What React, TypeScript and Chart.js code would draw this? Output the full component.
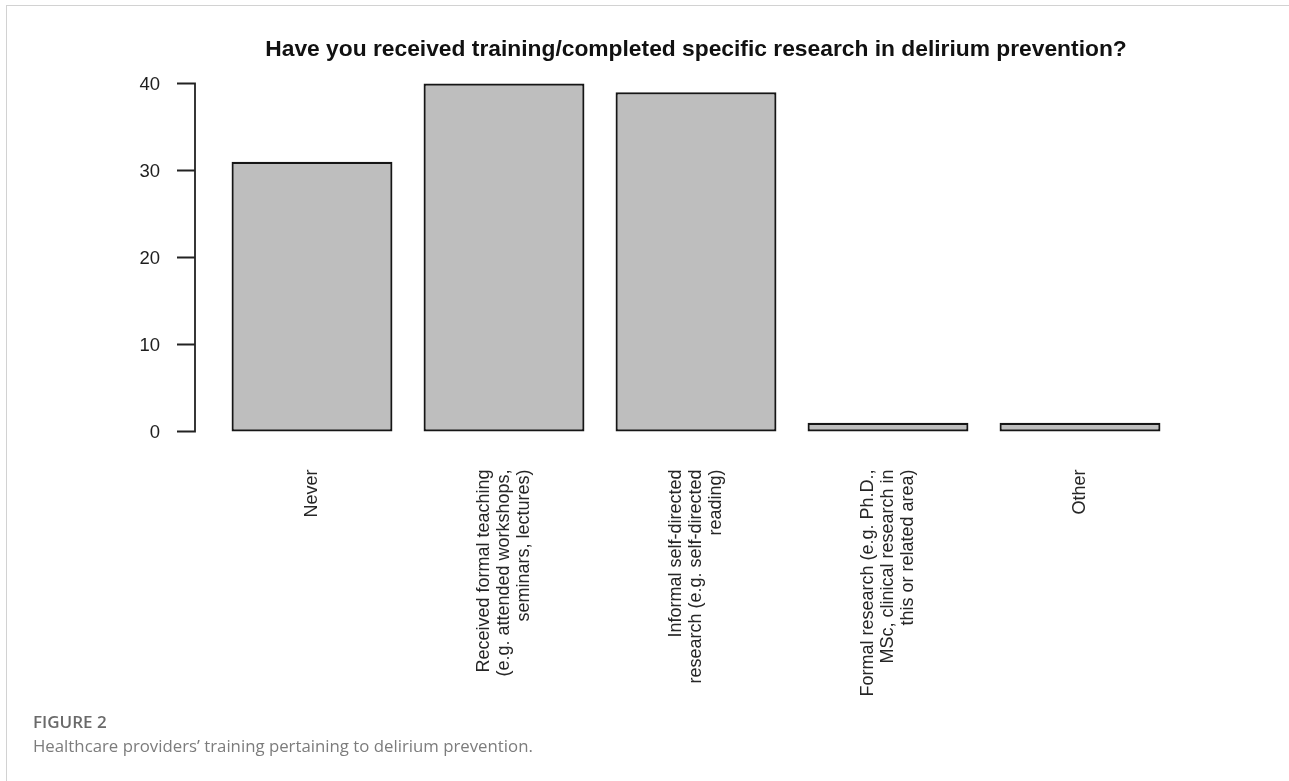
import React, { useEffect, useRef } from "react";
import { Chart, registerables } from "chart.js";

Chart.register(...registerables);

// ---- data ----
const chartTitle =
  "Have you received training/completed specific research in delirium prevention?";
const categories: string[][] = [
  ["Never"],
  ["Received formal teaching", "(e.g. attended workshops,", "seminars, lectures)"],
  ["Informal self-directed", "research (e.g. self-directed", "reading)"],
  ["Formal research (e.g. Ph.D.,", "MSc, clinical research in", "this or related area)"],
  ["Other"],
];
const counts = [31, 40, 39, 1, 1];
const yTickValues = [0, 10, 20, 30, 40];
const figureLabel = "FIGURE 2";
const figureCaption = "Healthcare providers\u2019 training pertaining to delirium prevention.";

const FONT = "'Liberation Sans', Arial, Helvetica, sans-serif";

const rStylePlugin = {
  id: "rStyle",
  afterDatasetsDraw(chart: any) {
    const { ctx, chartArea, scales } = chart;
    const xs = scales.x;
    const ys = scales.y;
    const axisX = chartArea.left - 21;
    const tickVals: number[] = ys.ticks.map((t: any) => t.value);
    ctx.save();

    // y axis line + tick marks
    ctx.strokeStyle = "#222";
    ctx.lineWidth = 1.8;
    ctx.lineCap = "butt";
    ctx.beginPath();
    const yTop = ys.getPixelForValue(Math.max(...tickVals));
    const yBot = ys.getPixelForValue(Math.min(...tickVals));
    ctx.moveTo(axisX, yBot + 0.9);
    ctx.lineTo(axisX, yTop - 0.9);
    tickVals.forEach((v) => {
      const py = ys.getPixelForValue(v);
      ctx.moveTo(axisX + 0.9, py);
      ctx.lineTo(axisX - 18, py);
    });
    ctx.stroke();

    // y tick labels
    ctx.fillStyle = "#1e1e1e";
    ctx.font = `18.5px ${FONT}`;
    ctx.textAlign = "right";
    ctx.textBaseline = "middle";
    ys.ticks.forEach((t: any) => {
      ctx.fillText(String(t.label ?? t.value), axisX - 35, ys.getPixelForValue(t.value) + 1);
    });

    // x category labels (rotated, right-justified, centred block)
    const lh = 20;
    const labelTop = chartArea.bottom + 24;
    ctx.fillStyle = "#262626";
    ctx.font = `18px ${FONT}`;
    (chart.data.labels as any[]).forEach((lab, i) => {
      const lines: string[] = Array.isArray(lab) ? lab : [String(lab)];
      const cx = xs.getPixelForTick(i);
      ctx.save();
      ctx.translate(cx - ((lines.length - 1) * lh) / 2, labelTop);
      ctx.rotate(-Math.PI / 2);
      ctx.textAlign = "right";
      ctx.textBaseline = "middle";
      lines.forEach((ln, j) => ctx.fillText(ln, 0, j * lh));
      ctx.restore();
    });

    // title
    ctx.fillStyle = "#111";
    ctx.font = `bold 22.8px ${FONT}`;
    ctx.textAlign = "center";
    ctx.textBaseline = "middle";
    ctx.fillText(chartTitle, (chartArea.left + chartArea.right) / 2, 50);

    ctx.restore();
  },
};

export default function App() {
  const ref = useRef<HTMLCanvasElement>(null);

  useEffect(() => {
    if (!ref.current) return;
    const chart = new Chart(ref.current, {
      type: "bar",
      data: {
        labels: categories as any,
        datasets: [
          {
            data: counts,
            backgroundColor: "#bebebe",
            borderColor: "#161616",
            borderWidth: 2.2,
            borderSkipped: false,
            barPercentage: 0.838,
            categoryPercentage: 1,
          },
        ],
      },
      options: {
        responsive: false,
        animation: false,
        devicePixelRatio: 1,
        layout: { padding: { left: 216, right: 113, top: 69.6, bottom: 335.6 } },
        scales: {
          x: { display: false, offset: true },
          y: {
            display: false,
            min: -1.6,
            max: 41.6,
            afterBuildTicks: (s: any) => {
              s.ticks = yTickValues.map((v) => ({ value: v }));
            },
          },
        },
        plugins: {
          legend: { display: false },
          tooltip: { enabled: false },
          title: { display: false },
        },
      },
      plugins: [rStylePlugin],
    });
    return () => chart.destroy();
  }, []);

  return (
    <div
      style={{
        position: "fixed",
        left: 0,
        top: 0,
        width: 1289,
        height: 781,
        background: "#fff",
        overflow: "hidden",
      }}
    >
      <div
        style={{
          position: "absolute",
          left: 6,
          top: 5,
          right: -10,
          bottom: -10,
          borderTop: "1.5px solid #d2d2d2",
          borderLeft: "1.5px solid #d2d2d2",
        }}
      />
      <canvas
        ref={ref}
        width={1289}
        height={781}
        style={{ position: "absolute", left: 0, top: 0 }}
      />
      <div
        style={{
          position: "absolute",
          left: 33,
          top: 710,
          fontFamily: "'Open Sans', 'Noto Sans', sans-serif",
        }}
      >
        <div style={{ fontWeight: 600, fontSize: 17, color: "#6a6a6a", lineHeight: "24px" }}>
          {figureLabel}
        </div>
        <div style={{ fontSize: 16.8, color: "#7c7c7c", lineHeight: "24px" }}>{figureCaption}</div>
      </div>
    </div>
  );
}
